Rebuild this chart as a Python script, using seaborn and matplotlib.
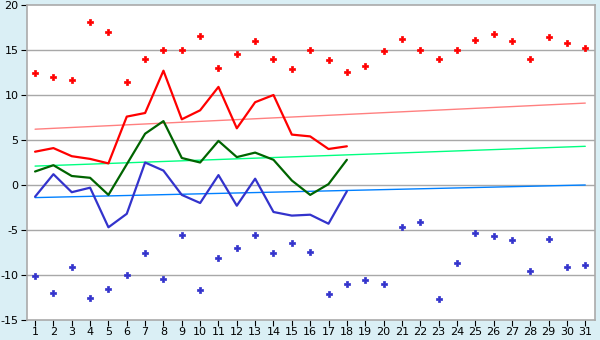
import numpy as np
import pandas as pd
import matplotlib
matplotlib.use("Agg")
import matplotlib.pyplot as plt
import seaborn as sns

days = list(range(1, 32))
max_points = [12.5, 12.0, 11.7, 18.1, 17.0, 11.5, 14.0, 15.0, 15.0, 16.6,
              13.0, 14.6, 16.0, 14.0, 12.9, 15.0, 13.9, 12.6, 13.2, 14.9,
              16.2, 15.0, 14.0, 15.0, 16.1, 16.8, 16.0, 14.0, 16.4, 15.8, 15.2]
min_points = [-10.1, -12.0, -9.1, -12.6, -11.5, -10.0, -7.6, -10.4, -5.6, -11.7,
              -8.1, -7.0, -5.5, -7.6, -6.4, -7.4, -12.1, -11.0, -10.5, -11.0,
              -4.7, -4.1, -12.7, -8.7, -5.3, -5.7, -6.1, -9.5, -6.0, -9.1, -8.9]

obs_days = list(range(1, 19))
tmax = [3.7, 4.1, 3.2, 2.9, 2.4, 7.6, 8.0, 12.7, 7.3, 8.3,
        10.9, 6.3, 9.2, 10.0, 5.6, 5.4, 4.0, 4.3]
tavg = [1.5, 2.2, 1.0, 0.8, -1.1, 2.3, 5.7, 7.1, 3.0, 2.5,
        4.9, 3.1, 3.6, 2.8, 0.5, -1.1, 0.1, 2.8]
tmin = [-1.3, 1.2, -0.8, -0.3, -4.7, -3.2, 2.5, 1.6, -1.1, -2.0,
        1.1, -2.3, 0.7, -3.0, -3.4, -3.3, -4.3, -0.7]

trend_days = [1, 31]
trend_max = [6.2, 9.1]
trend_avg = [2.1, 4.3]
trend_min = [-1.4, 0.0]

y_ticks = [-15, -10, -5, 0, 5, 10, 15, 20]

sns.set_theme(style="white")
plt.rcParams['font.family'] = ['DejaVu Sans']

fig = plt.figure(figsize=(6, 3.4), dpi=100)
fig.patch.set_facecolor('#DAEFF5')
ax = fig.add_axes([27/600, 1-320/340, (595-27)/600, 315/340])
ax.set_facecolor('white')

for v in y_ticks[1:-1]:
    ax.axhline(v, color='#A8A8A8', lw=1.0, zorder=0)

sns.lineplot(x=trend_days, y=trend_max, ax=ax, color='#FF8080', lw=1.0, zorder=2)
sns.lineplot(x=trend_days, y=trend_avg, ax=ax, color='#00FF80', lw=1.0, zorder=2)
sns.lineplot(x=trend_days, y=trend_min, ax=ax, color='#0080FF', lw=1.0, zorder=2)

sns.lineplot(x=obs_days, y=tmax, ax=ax, color='#FF0000', lw=1.6, zorder=3)
sns.lineplot(x=obs_days, y=tavg, ax=ax, color='#006400', lw=1.6, zorder=3)
sns.lineplot(x=obs_days, y=tmin, ax=ax, color='#3333CC', lw=1.6, zorder=3)

sns.scatterplot(x=days, y=max_points, ax=ax, color='#FF0000', marker='P',
                s=17, linewidth=0.5, edgecolor='#FF0000', zorder=4)
sns.scatterplot(x=days, y=min_points, ax=ax, color='#3333CC', marker='P',
                s=17, linewidth=0.5, edgecolor='#3333CC', zorder=4)

ax.set_xlim(0.56, 31.53)
ax.set_ylim(-15, 20)
ax.set_xticks(days)
ax.set_xticklabels([str(d) for d in days])
ax.set_yticks(y_ticks)
ax.set_yticklabels([str(v) for v in y_ticks])
ax.tick_params(axis='both', which='both', direction='out', length=4, width=0.8,
               color='black', labelsize=8, pad=2, labelcolor='black')
ax.tick_params(axis='x', bottom=True, pad=1)
ax.tick_params(axis='y', left=True)
for s in ['top', 'right', 'bottom', 'left']:
    ax.spines[s].set_color('#AAAAAA')
    ax.spines[s].set_linewidth(1.2)
ax.set_xlabel('')
ax.set_ylabel('')

fig.savefig('out.png', dpi=100, facecolor=fig.get_facecolor())
